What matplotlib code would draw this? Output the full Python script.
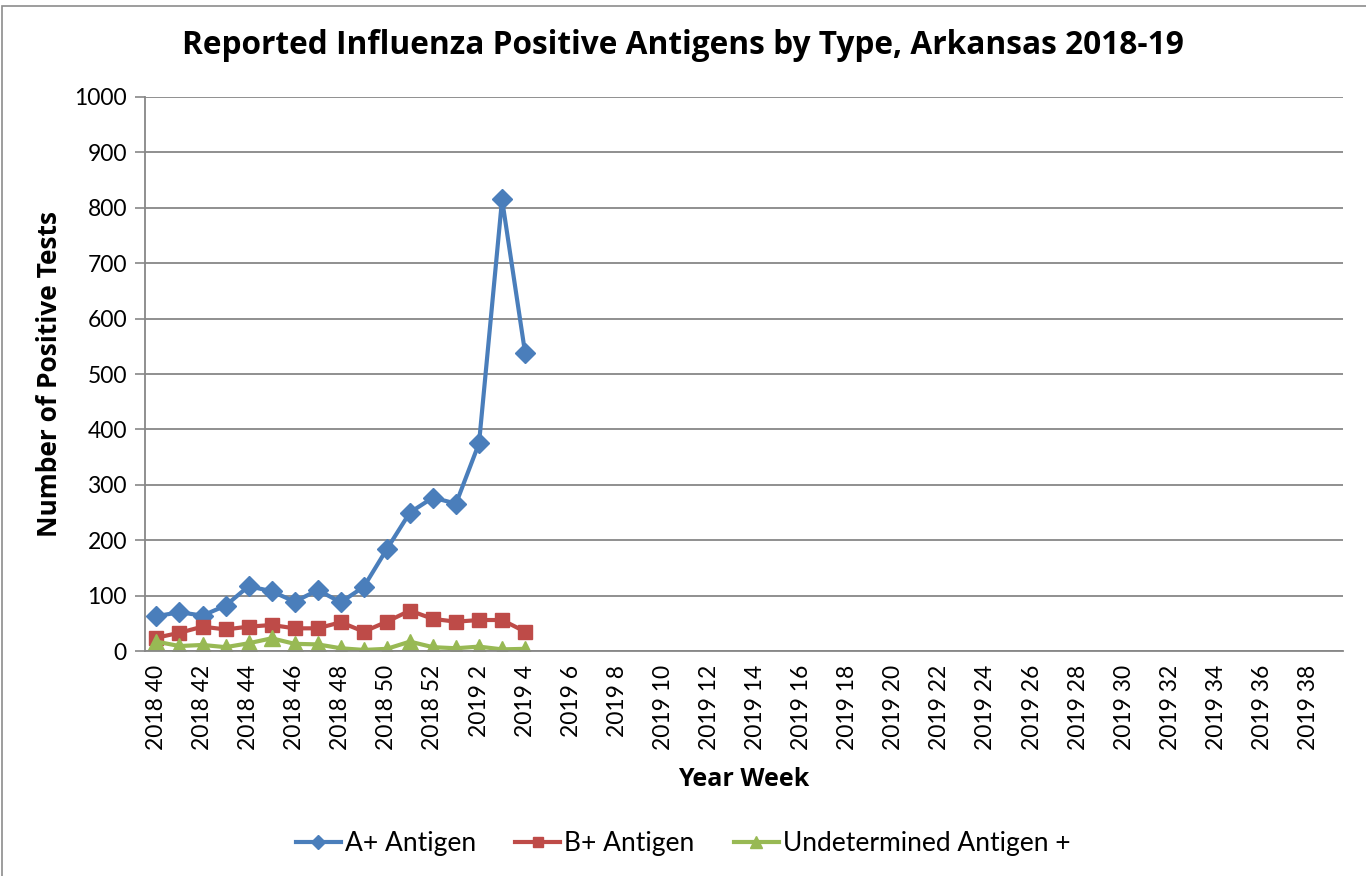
import matplotlib
matplotlib.use("Agg")
import matplotlib.pyplot as plt
from matplotlib.patches import Rectangle

# Year-week categories: 2018 wk 40 .. 2019 wk 39
weeks = [f"2018 {w}" for w in range(40, 53)] + [f"2019 {w}" for w in range(1, 40)]

# Reported positives (2018 40 .. 2019 4)
a_pos = [63, 70, 64, 82, 117, 108, 89, 110, 88, 116, 184, 250, 277, 266, 375, 815, 538]
b_pos = [24, 33, 44, 39, 44, 47, 41, 41, 52, 35, 53, 73, 58, 53, 56, 56, 35]
undet = [17, 9, 11, 7, 14, 23, 13, 12, 5, 2, 4, 17, 7, 5, 8, 3, 4]

plt.rcParams["font.family"] = ["Lato", "DejaVu Sans"]
BOLD = ["Open Sans", "DejaVu Sans"]

fig = plt.figure(figsize=(13.66, 8.76), dpi=100)
fig.patches.append(Rectangle((0.0015, -0.01), 1.5, 1.003, transform=fig.transFigure,
                             fill=False, edgecolor="#8c8c8c", linewidth=1.2))
ax = fig.add_axes([0.1061, 0.2568, 0.8771, 0.6325])

x = list(range(len(a_pos)))
ax.plot(x, a_pos, color="#4A7EBB", lw=3, marker="D", ms=10.5, label="A+ Antigen",
        solid_joinstyle="round")
ax.plot(x, b_pos, color="#BE4B48", lw=3, marker="s", ms=10.5, label="B+ Antigen",
        solid_joinstyle="round")
ax.plot(x, undet, color="#98B954", lw=3, marker="^", ms=12, label="Undetermined Antigen +",
        solid_joinstyle="round")

ax.set_xlim(-0.5, len(weeks) - 0.5)
ax.set_ylim(0, 1000)
ax.set_yticks(range(0, 1001, 100))
ax.set_xticks(range(0, len(weeks), 2))
ax.set_xticklabels(weeks[::2], rotation=90, fontsize=16.5)
ax.tick_params(axis="y", labelsize=16.5, length=7, color="#878787", width=1.2, pad=6)
ax.tick_params(axis="x", length=0, pad=10)

ax.grid(axis="y", color="#878787", linewidth=1.3)
ax.set_axisbelow(True)
for side in ("top", "right"):
    ax.spines[side].set_visible(False)
for side in ("left", "bottom"):
    ax.spines[side].set_color("#878787")
    ax.spines[side].set_linewidth(1.3)

ax.set_ylabel("Number of Positive Tests", fontsize=19, fontweight="bold", family=BOLD,
              labelpad=8)
ax.set_xlabel("Year Week", fontsize=18, fontweight="bold", family=BOLD, labelpad=12)
fig.text(0.5, 0.948, "Reported Influenza Positive Antigens by Type, Arkansas 2018-19",
         ha="center", va="center", fontsize=22.8, fontweight="bold", family=BOLD)

fig.legend(loc="center", bbox_to_anchor=(0.5, 0.037), ncol=3, frameon=False,
           fontsize=19, handlelength=1.7, columnspacing=1.5, handletextpad=0.15,
           markerscale=0.7)

fig.savefig("out.png", dpi=100)
